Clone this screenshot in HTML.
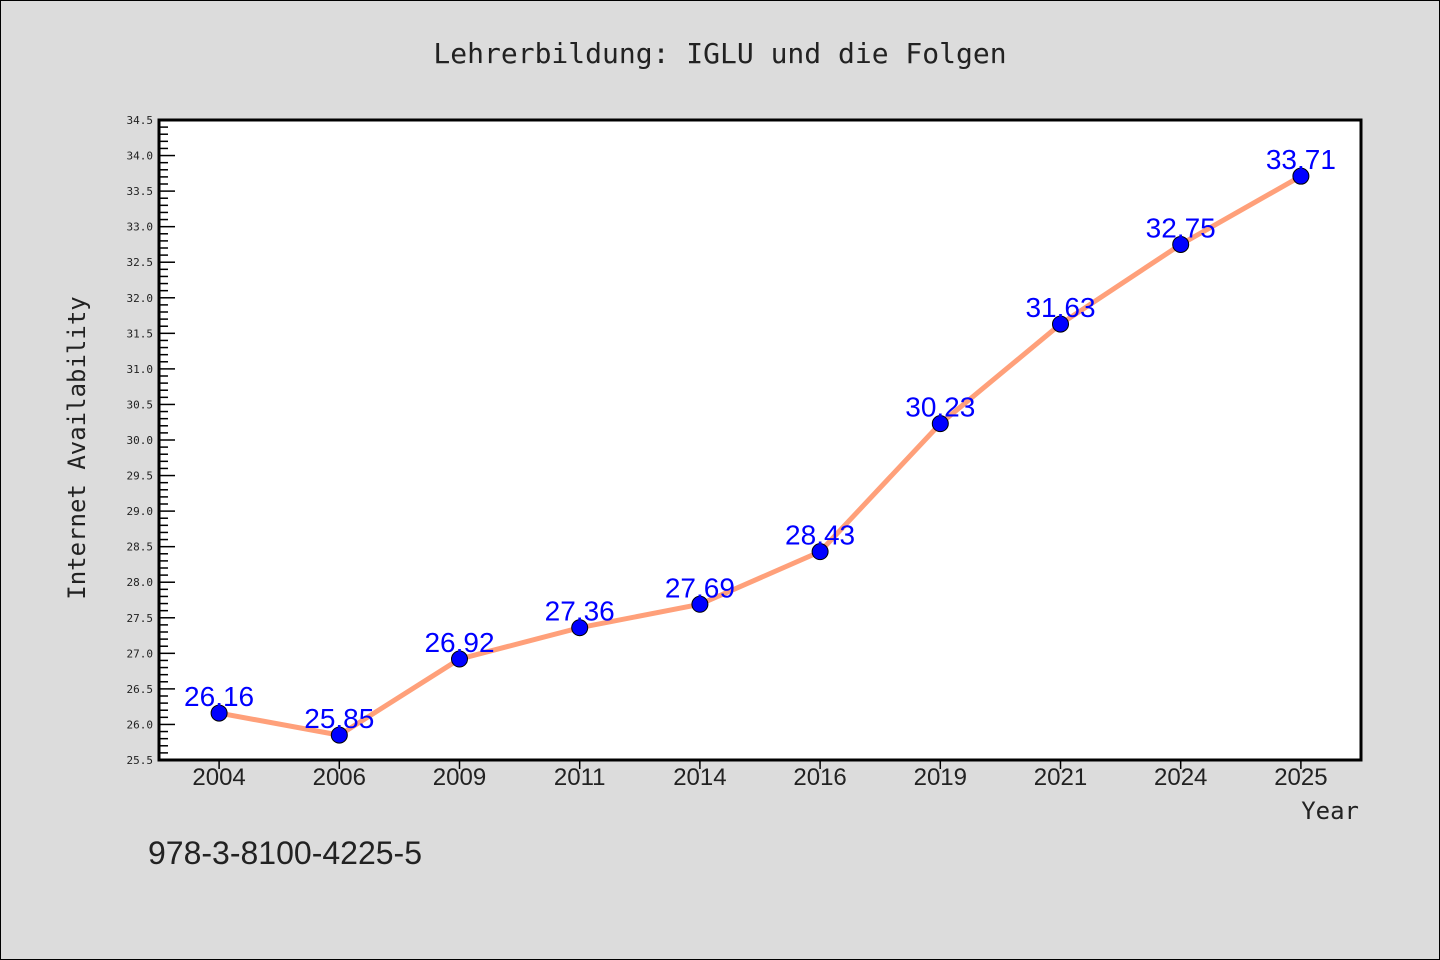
<!DOCTYPE html>
<html><head><meta charset="utf-8"><style>
html,body{margin:0;padding:0;background:#dcdcdc;}
svg{display:block;font-family:"DejaVu Sans Mono","Liberation Mono",monospace;}
</style></head><body>
<svg id="chart" width="1440" height="960">
<rect x="0.5" y="0.5" width="1439" height="959" fill="#dcdcdc" stroke="#000" stroke-width="1"/>
<text x="720" y="63" text-anchor="middle" font-size="28" fill="#222">Lehrerbildung: IGLU und die Folgen</text>
<rect x="159" y="120" width="1202" height="640" fill="#fff"/>
<g id="yaxis"></g>
<g id="xaxis"></g>
<g id="series"></g>
<rect x="159" y="120" width="1202" height="640" fill="none" stroke="#000" stroke-width="3"/>
<text transform="translate(85,448) rotate(-90)" text-anchor="middle" font-size="24" fill="#222">Internet Availability</text>
<text x="1359" y="819" text-anchor="end" font-size="24" fill="#222">Year</text>
<text x="148" y="864" font-family="Liberation Sans, sans-serif" font-size="32" fill="#222">978-3-8100-4225-5</text>
</svg>
<script>
const categories = ["2004","2006","2009","2011","2014","2016","2019","2021","2024","2025"];
const values = [26.16,25.85,26.92,27.36,27.69,28.43,30.23,31.63,32.75,33.71];
const yTicks = [25.5,26.0,26.5,27.0,27.5,28.0,28.5,29.0,29.5,30.0,30.5,31.0,31.5,32.0,32.5,33.0,33.5,34.0,34.5];
const NS="http://www.w3.org/2000/svg";
const L=159,R=1361,T=120,B=760,yMin=25.5,yMax=34.5;
const step=(R-L)/categories.length;
const xs=i=>L+step*(i+0.5);
const ys=v=>B-(v-yMin)/(yMax-yMin)*(B-T);
function mk(tag,attrs,parent){const e=document.createElementNS(NS,tag);for(const k in attrs)e.setAttribute(k,attrs[k]);parent.appendChild(e);return e;}
const ya=document.getElementById('yaxis'),xa=document.getElementById('xaxis'),sg=document.getElementById('series');
for(let v=yMin;v<=yMax+1e-9;v+=0.1){
  const y=ys(v);const major=Math.abs(v*2-Math.round(v*2))<1e-6;
  const t=mk('line',{x1:L,x2:L+(major?16:9),y1:y,y2:y,stroke:'#000','stroke-width':1.5},ya);
  
  
}
yTicks.forEach(v=>{
  const t=mk('text',{x:L-6,y:ys(v)+4,'text-anchor':'end','font-size':11,fill:'#222'},ya);
  t.textContent=v.toFixed(1);
  
  
});
categories.forEach((c,i)=>{
  const x=xs(i);
  const tk=mk('line',{x1:x,x2:x,y1:B,y2:B+9,stroke:'#000','stroke-width':1.5},xa);
  
  
  const t=mk('text',{x:x,y:B+25,'text-anchor':'middle','font-size':24,'font-family':'Liberation Sans, sans-serif',fill:'#222'},xa);
  t.textContent=c;
  
  
});
const line=mk('polyline',{points:values.map((v,i)=>xs(i)+','+ys(v)).join(' '),fill:'none',stroke:'#ffa07a','stroke-width':5,'stroke-linejoin':'round'},sg);


values.forEach((v,i)=>{
  const c=mk('circle',{cx:xs(i),cy:ys(v),r:8,fill:'#0000ff',stroke:'#000','stroke-width':1},sg);
  
  
  const t=mk('text',{x:xs(i),y:ys(v)-7,'text-anchor':'middle','font-size':28,'font-family':'Liberation Sans, sans-serif',fill:'#0000ff'},sg);
  t.textContent=v.toFixed(2);
  
  
});
</script>
</body></html>
